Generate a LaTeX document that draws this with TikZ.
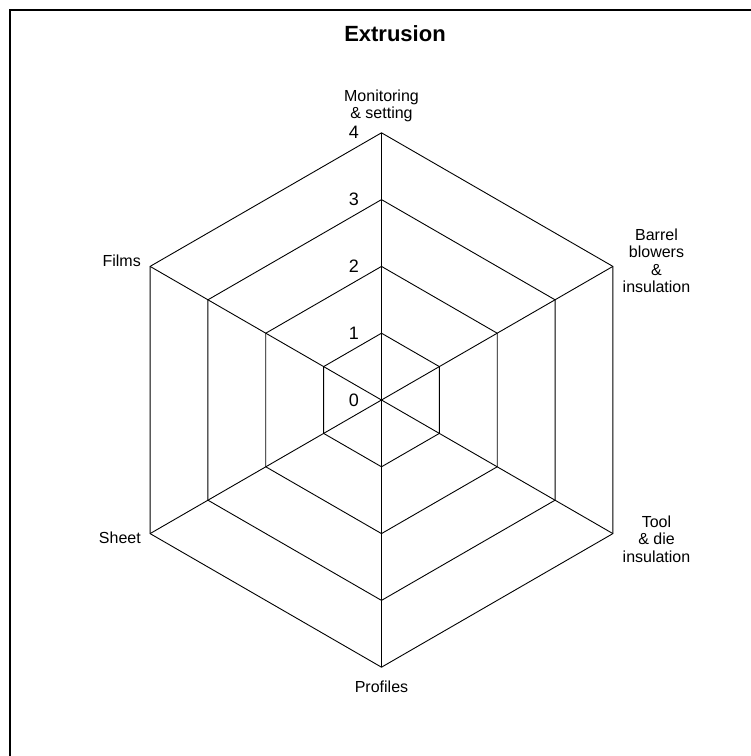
\documentclass[tikz,border=0pt]{standalone}
\usepackage{fontspec}
\setmainfont{Liberation Sans}
\begin{document}
\begin{tikzpicture}[x=1pt,y=1pt,
  grid/.style={draw=black,line width=0.9pt,line join=miter},
  frameline/.style={draw=black,line width=2pt},
  axislabel/.style={font=\fontsize{16}{17.5}\selectfont,align=center,inner sep=0pt},
  ticklabel/.style={font=\fontsize{18}{20}\selectfont,inner sep=0pt,anchor=east},
  titlelabel/.style={font=\fontsize{22}{24}\selectfont\bfseries,inner sep=0pt},
]
% canvas, origin at the centre of the chart
\useasboundingbox (-381.5,-356) rectangle (369.5,400);
\fill[white] (-381.5,-356) rectangle (369.5,400);
\coordinate (fbl) at (-371.5,-356);
\coordinate (ftl) at (-371.5,390);
\coordinate (ftr) at (369.5,390);
\draw[frameline] (fbl) -- (ftl) -- (ftr);

\def\unit{66.8}
\coordinate (O) at (0,0);
% concentric hexagons, levels 1 to 4
\foreach \k in {1,...,4}{
  \coordinate (h\k a) at (90:\k*\unit);
  \coordinate (h\k b) at (30:\k*\unit);
  \coordinate (h\k c) at (-30:\k*\unit);
  \coordinate (h\k d) at (-90:\k*\unit);
  \coordinate (h\k e) at (-150:\k*\unit);
  \coordinate (h\k f) at (150:\k*\unit);
  \draw[grid] (h\k a) -- (h\k b) -- (h\k c) -- (h\k d) -- (h\k e) -- (h\k f) -- cycle;
}
% spokes
\foreach \s in {a,b,c,d,e,f}{
  \draw[grid] (O) -- (h4\s);
}

% scale values
\node[ticklabel] (n0) at (-22.5,0) {0};
\foreach \k in {1,...,4}{
  \node[ticklabel] (n\k) at (-22.5,\k*\unit) {\k};
}

% axis labels
\node[axislabel] (lmon) at (0,294) {Monitoring\\\& setting};
\node[axislabel] (lbar) at (275,139) {Barrel\\blowers\\\&\\insulation};
\node[axislabel] (ltool) at (275,-139) {Tool\\\& die\\insulation};
\node[axislabel] (lprof) at (0,-286.5) {Profiles};
\node[axislabel,anchor=east] (lsheet) at (-240.5,-138) {Sheet};
\node[axislabel,anchor=east] (lfilms) at (-240.5,139) {Films};

% title
\node[titlelabel] (title) at (13.5,366) {Extrusion};
\end{tikzpicture}
\end{document}
